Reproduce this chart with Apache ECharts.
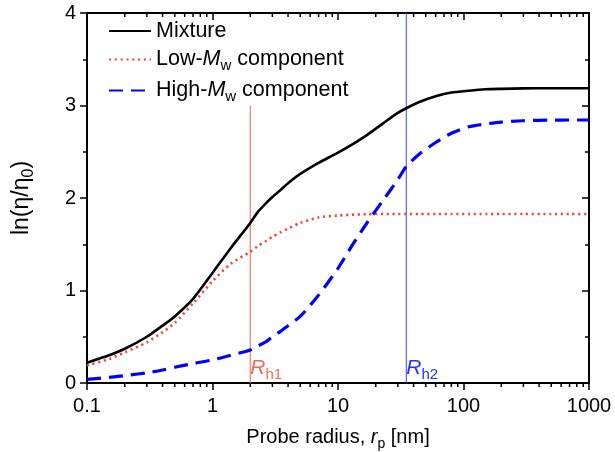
<!DOCTYPE html>
<html>
<head>
<meta charset="utf-8">
<script src="https://cdn.jsdelivr.net/npm/echarts@6/dist/echarts.min.js"></script>
<style>
html,body{margin:0;padding:0;background:#fff;overflow:hidden;}
#chart{width:615px;height:452px;}
</style>
</head>
<body>
<div id="chart"></div>
<script>
// Probe radius grid (nm)
const radius = [0.1, 0.15, 0.2, 0.3, 0.4, 0.5, 0.7, 1, 1.4, 2, 2.3, 2.7, 3, 3.5, 4, 5, 7, 10, 13, 17, 23, 30, 35, 45, 60, 80, 110, 150, 200, 300, 500, 700, 1000];
// ln(eta/eta0) values
const mixture = [0.22, 0.30, 0.37, 0.50, 0.62, 0.72, 0.91, 1.19, 1.46, 1.73, 1.85, 1.95, 2.01, 2.09, 2.16, 2.26, 2.38, 2.49, 2.58, 2.68, 2.81, 2.92, 2.97, 3.04, 3.10, 3.14, 3.16, 3.175, 3.18, 3.185, 3.186, 3.186, 3.186];
const lowMw   = [0.19, 0.26, 0.33, 0.44, 0.55, 0.65, 0.86, 1.10, 1.29, 1.42, 1.48, 1.54, 1.58, 1.63, 1.67, 1.73, 1.79, 1.81, 1.82, 1.825, 1.827, 1.827, 1.827, 1.827, 1.827, 1.827, 1.827, 1.827, 1.827, 1.827, 1.827, 1.827, 1.827];
const highMw  = [0.04, 0.06, 0.08, 0.11, 0.14, 0.17, 0.21, 0.25, 0.30, 0.357, 0.40, 0.45, 0.50, 0.56, 0.62, 0.72, 0.95, 1.24, 1.49, 1.73, 1.98, 2.20, 2.34, 2.48, 2.60, 2.70, 2.77, 2.80, 2.82, 2.835, 2.842, 2.843, 2.843];
// Hydrodynamic radii markers
const rh1 = 2, rh1Top = 3.0;
const rh2 = 35, rh2Top = 4.0;
// Axis ticks
const xTicks = [0.1, 1, 10, 100, 1000];
const yTicks = [0, 1, 2, 3, 4];
const minorMultiples = [2, 3, 4, 5, 6, 7, 8, 9];

const seriesNames = ['Mixture', 'Low-Mw component', 'High-Mw component'];

const minorX = [];
xTicks.slice(0, -1).forEach(d => minorMultiples.forEach(m => minorX.push([+(d * m).toPrecision(6), 0])));

const pair = (xs, ys) => xs.map((x, i) => [x, ys[i]]);
const FONT = 'Liberation Sans, Arial, sans-serif';
const redLine = '#ef4a3a';
const blueLine = '#0000ff';

const chart = echarts.init(document.getElementById('chart'), null, {renderer: 'canvas'});
chart.setOption({
  animation: false,
  backgroundColor: '#fff',
  textStyle: {fontFamily: FONT},
  grid: {left: 87, right: 26, top: 13, bottom: 69, containLabel: false, outerBoundsMode: 'none'},
  legend: {
    data: seriesNames,
    orient: 'vertical',
    left: 103,
    top: 15,
    itemWidth: 42,
    itemHeight: 14,
    itemGap: 4,
    itemStyle: {opacity: 0},
    textStyle: {
      fontFamily: FONT, fontSize: 21.5, color: '#000', lineHeight: 22,
      rich: {
        i: {fontFamily: FONT, fontSize: 21.5, fontStyle: 'italic', color: '#000'},
        s: {fontFamily: FONT, fontSize: 15, color: '#000', verticalAlign: 'bottom', lineHeight: 27}
      }
    },
    formatter: function (name) {
      if (name === 'Mixture') return 'Mixture';
      return name.replace('Mw', '{i|M}{s|w}');
    }
  },
  xAxis: [{
    type: 'log', logBase: 10, min: 0.1, max: 1000,
    position: 'bottom',
    name: 'Probe radius, {i|r}{s|p} [nm]',
    nameLocation: 'middle', nameGap: 41,
    nameTextStyle: {
      fontFamily: FONT, fontSize: 20, color: '#000',
      rich: {
        i: {fontFamily: FONT, fontSize: 20, fontStyle: 'italic', color: '#000'},
        s: {fontFamily: FONT, fontSize: 14, color: '#000', verticalAlign: 'bottom', lineHeight: 27}
      }
    },
    axisLine: {show: true, onZero: false, lineStyle: {color: '#000', width: 2}},
    axisTick: {show: true, inside: false, length: 7, lineStyle: {color: '#000', width: 1.5}},
    minorTick: {show: false},
    splitLine: {show: false},
    axisLabel: {
      margin: 13, fontFamily: FONT, fontSize: 20, color: '#000',
      formatter: v => String(+v.toPrecision(6)),
      showMinLabel: true, showMaxLabel: true
    }
  }, {
    type: 'log', logBase: 10, min: 0.1, max: 1000,
    position: 'top',
    axisLine: {show: true, onZero: false, lineStyle: {color: '#000', width: 2}},
    axisTick: {show: true, inside: true, length: 7, lineStyle: {color: '#000', width: 1.5}},
    axisLabel: {show: false},
    splitLine: {show: false}
  }],
  yAxis: [{
    type: 'value', min: 0, max: 4, interval: 1,
    position: 'left',
    name: 'ln(η/η{s|0})',
    nameLocation: 'middle', nameGap: 50, nameRotate: 90,
    nameTextStyle: {
      fontFamily: FONT, fontSize: 23, color: '#000',
      rich: {
        s: {fontFamily: FONT, fontSize: 16, color: '#000', verticalAlign: 'bottom', lineHeight: 31}
      }
    },
    axisLine: {show: true, onZero: false, lineStyle: {color: '#000', width: 2}},
    axisTick: {show: true, inside: false, length: 7, lineStyle: {color: '#000', width: 1.5}},
    minorTick: {show: true, splitNumber: 2, length: 4, lineStyle: {color: '#000', width: 1.5}},
    splitLine: {show: false},
    axisLabel: {margin: 11, fontFamily: FONT, fontSize: 20, color: '#000',
      formatter: v => yTicks.indexOf(v) >= 0 ? String(v) : ''}
  }, {
    type: 'value', min: 0, max: 4, interval: 1,
    position: 'right',
    axisLine: {show: true, onZero: false, lineStyle: {color: '#000', width: 2}},
    axisTick: {show: true, inside: true, length: 7, lineStyle: {color: '#000', width: 1.5}},
    minorTick: {show: true, splitNumber: 2, length: 4, lineStyle: {color: '#000', width: 1.5}},
    axisLabel: {show: false},
    splitLine: {show: false}
  }],
  series: [
    {
      name: 'Rh1 marker', type: 'line', xAxisIndex: 0, yAxisIndex: 0,
      data: [
        {value: [rh1, 0], label: {show: true, position: 'right', distance: 0, offset: [0, -15],
          formatter: '{i|R}{s|h1}',
          rich: {
            i: {fontFamily: FONT, fontSize: 21, fontStyle: 'italic', color: '#f06a58'},
            s: {fontFamily: FONT, fontSize: 15, color: '#f06a58', verticalAlign: 'bottom', lineHeight: 29}
          }}},
        {value: [rh1, rh1Top], label: {show: false}}
      ],
      symbol: 'circle', symbolSize: 0.01, showSymbol: true, silent: true, z: 1,
      itemStyle: {color: 'rgba(0,0,0,0)'},
      lineStyle: {color: '#f47b6b', width: 1.2}
    },
    {
      name: 'Rh2 marker', type: 'line', xAxisIndex: 0, yAxisIndex: 0,
      data: [
        {value: [rh2, 0], label: {show: true, position: 'right', distance: 0, offset: [0, -15],
          formatter: '{i|R}{s|h2}',
          rich: {
            i: {fontFamily: FONT, fontSize: 21, fontStyle: 'italic', color: '#2233ff'},
            s: {fontFamily: FONT, fontSize: 15, color: '#2233ff', verticalAlign: 'bottom', lineHeight: 29}
          }}},
        {value: [rh2, rh2Top], label: {show: false}}
      ],
      symbol: 'circle', symbolSize: 0.01, showSymbol: true, silent: true, z: 1,
      itemStyle: {color: 'rgba(0,0,0,0)'},
      lineStyle: {color: '#3344ff', width: 1}
    },
    {
      name: seriesNames[0], type: 'line', data: pair(radius, mixture),
      smooth: 0.25, symbol: 'none', z: 3,
      lineStyle: {color: '#000', width: 2.6, type: 'solid'},
      itemStyle: {color: '#000'}
    },
    {
      name: seriesNames[1], type: 'line', data: pair(radius, lowMw),
      smooth: 0.25, symbol: 'none', z: 3,
      lineStyle: {color: redLine, width: 2.6, type: [2.2, 3.6], cap: 'butt'},
      itemStyle: {color: redLine}
    },
    {
      name: seriesNames[2], type: 'line', data: pair(radius, highMw),
      smooth: 0.25, symbol: 'none', z: 3,
      lineStyle: {color: blueLine, width: 3.2, type: [14, 8]},
      itemStyle: {color: blueLine}
    },
    {
      name: 'minor x ticks', type: 'custom', xAxisIndex: 0, yAxisIndex: 0,
      data: minorX, silent: true, clip: false, z: 5,
      renderItem: function (params, api) {
        const x = api.value(0);
        const pb = api.coord([x, 0]);
        const pt = api.coord([x, 4]);
        const st = {stroke: '#000', lineWidth: 1.5};
        return {type: 'group', children: [
          {type: 'line', shape: {x1: pb[0], y1: pb[1], x2: pb[0], y2: pb[1] + 4}, style: st},
          {type: 'line', shape: {x1: pt[0], y1: pt[1], x2: pt[0], y2: pt[1] + 4}, style: st}
        ]};
      }
    }
  ]
});
</script>
</body>
</html>
